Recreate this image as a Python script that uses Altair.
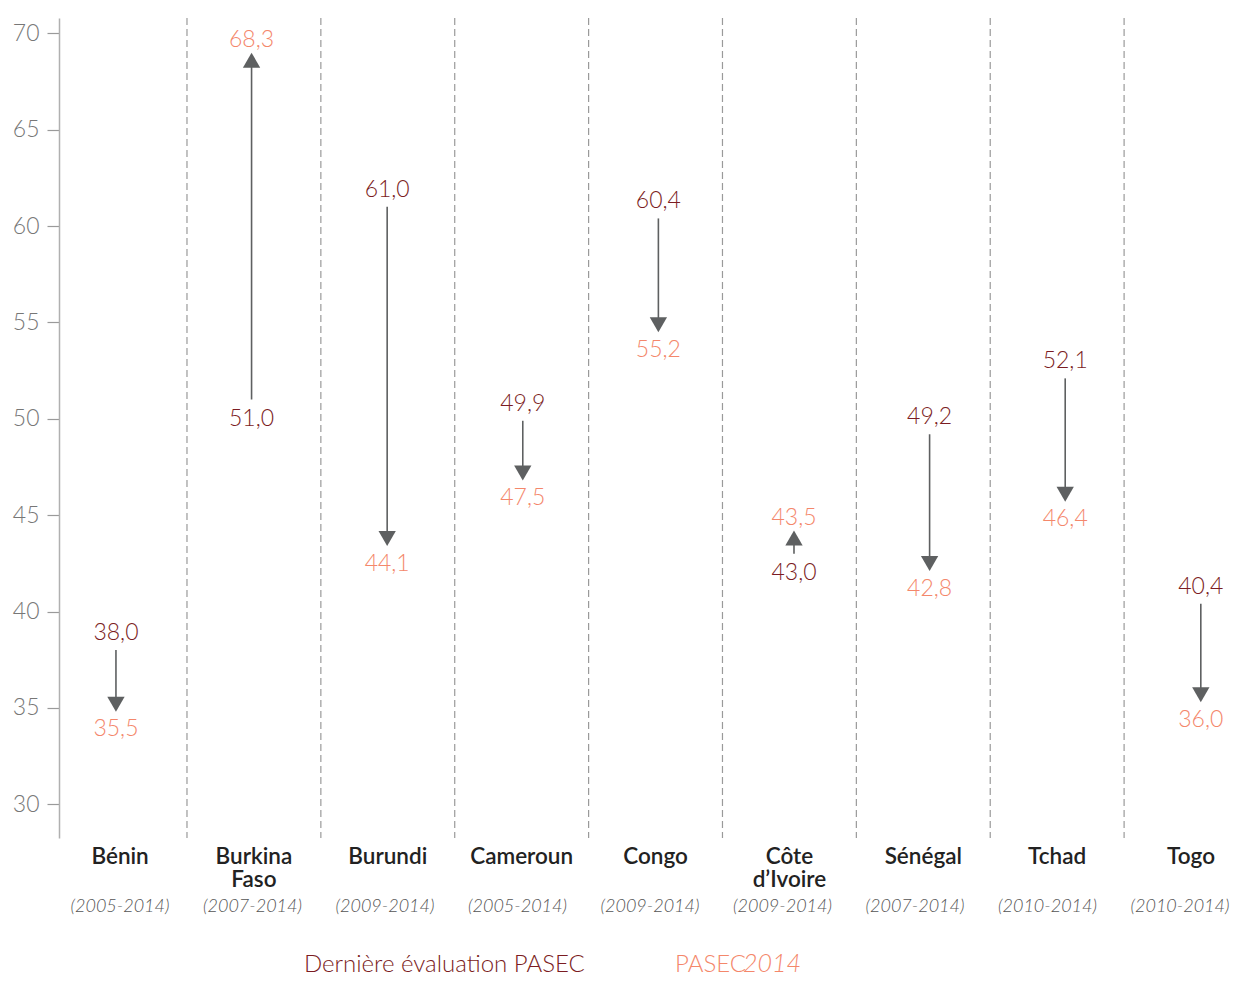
import altair as alt
import pandas as pd

countries = ["Bénin", "Burkina\nFaso", "Burundi", "Cameroun", "Congo", "Côte\nd’Ivoire", "Sénégal", "Tchad", "Togo"]
periods = ["(2005-2014)", "(2007-2014)", "(2009-2014)", "(2005-2014)", "(2009-2014)", "(2009-2014)", "(2007-2014)", "(2010-2014)", "(2010-2014)"]
previous = [38.0, 51.0, 61.0, 49.9, 60.4, 43.0, 49.2, 52.1, 40.4]
pasec2014 = [35.5, 68.3, 44.1, 47.5, 55.2, 43.5, 42.8, 46.4, 36.0]
y_ticks = [30, 35, 40, 45, 50, 55, 60, 65, 70]

DARK = "#7b1c22"
SALMON = "#f4876b"
ARROW = "#5e6061"
FONT = "Lato"

def fmt(v):
    return f"{v:.1f}".replace(".", ",")

df = pd.DataFrame({
    "idx": list(range(len(countries))),
    "country": countries,
    "period": periods,
    "old": previous,
    "new": pasec2014,
})
df["old_lbl"] = [fmt(v) for v in df["old"]]
df["new_lbl"] = [fmt(v) for v in df["new"]]
df["up"] = df["new"] > df["old"]

seps = pd.DataFrame({"s": [i + 0.5 for i in range(len(countries) - 1)]})

W, H = 1173, 820
xs = alt.Scale(domain=[-0.42, 8.23], nice=False, zero=False)        # arrows
xl = alt.Scale(domain=[-0.456, 8.306], nice=False, zero=False)      # names / separators
xd = alt.Scale(domain=[-0.4604, 8.3925], nice=False, zero=False)    # periods
ys = alt.Scale(domain=[28.25, 70.8], nice=False, zero=False)
X = alt.X("idx:Q", scale=xs, axis=None)
XL = alt.X("idx:Q", scale=xl, axis=None)
XD = alt.X("idx:Q", scale=xd, axis=None)

base = alt.Chart(df)

sep_layer = alt.Chart(seps).mark_rule(color="#9a9a9a", strokeDash=[7, 4], strokeWidth=1.2).encode(
    x=alt.X("s:Q", scale=xl, axis=None), y=alt.value(0), y2=alt.value(H)
)

rules = base.mark_rule(color=ARROW, strokeWidth=1.6).encode(
    x=X,
    y=alt.Y("old:Q", scale=ys, axis=alt.Axis(
        values=y_ticks, title=None, grid=False, domainColor="#b0b0b0", domainWidth=1.5,
        tickColor="#9a9a9a", tickSize=12, tickWidth=1.2, labelFont=FONT, labelFontSize=23,
        labelColor="#777777", labelPadding=8, labelFontWeight=300)),
    y2="new:Q",
)

tri_down = base.transform_filter("!datum.up").mark_point(
    shape="triangle-down", filled=True, color=ARROW, opacity=1, size=300, yOffset=6
).encode(x=X, y=alt.Y("new:Q", scale=ys))
tri_up = base.transform_filter("datum.up").mark_point(
    shape="triangle-up", filled=True, color=ARROW, opacity=1, size=300, yOffset=-6
).encode(x=X, y=alt.Y("new:Q", scale=ys))

tstyle = dict(font=FONT, fontSize=23, baseline="middle", align="center", fontWeight=300)
old_down = base.transform_filter("!datum.up").mark_text(color=DARK, dy=-17, **tstyle).encode(
    x=X, y=alt.Y("old:Q", scale=ys), text="old_lbl:N")
new_down = base.transform_filter("!datum.up").mark_text(color=SALMON, dy=31, **tstyle).encode(
    x=X, y=alt.Y("new:Q", scale=ys), text="new_lbl:N")
old_up = base.transform_filter("datum.up").mark_text(color=DARK, dy=19, **tstyle).encode(
    x=X, y=alt.Y("old:Q", scale=ys), text="old_lbl:N")
new_up = base.transform_filter("datum.up").mark_text(color=SALMON, dy=-26, **tstyle).encode(
    x=X, y=alt.Y("new:Q", scale=ys), text="new_lbl:N")

names = base.mark_text(font=FONT, fontSize=22.5, fontWeight=600, color="#222222", align="center",
                       baseline="alphabetic", lineBreak="\n", lineHeight=23).encode(
    x=XL, y=alt.value(846), text="country:N")
dates = base.mark_text(font=FONT, fontSize=18, fontStyle="italic", fontWeight=300, color="#555555",
                       align="center", baseline="alphabetic").encode(
    x=XD, y=alt.value(894), text="period:N")

leg = pd.DataFrame({"t": ["Dernière évaluation PASEC"]})
leg1 = alt.Chart(leg).mark_text(font=FONT, fontSize=24, fontWeight=300, color=DARK, align="left",
                                baseline="alphabetic").encode(
    x=alt.value(245), y=alt.value(954), text="t:N")
leg2df = pd.DataFrame({"t": ["PASEC"]})
leg2 = alt.Chart(leg2df).mark_text(font=FONT, fontSize=24, fontWeight=300, color=SALMON, align="left",
                                   baseline="alphabetic").encode(
    x=alt.value(616), y=alt.value(954), text="t:N")
leg3df = pd.DataFrame({"t": ["2014"]})
leg3 = alt.Chart(leg3df).mark_text(font=FONT, fontSize=25, fontWeight=300, fontStyle="italic",
                                   color=SALMON, align="left", baseline="alphabetic").encode(
    x=alt.value(684), y=alt.value(954), text="t:N")

chart = alt.layer(
    sep_layer, rules, tri_down, tri_up, old_down, new_down, old_up, new_up, names, dates, leg1, leg2, leg3
).resolve_scale(x="independent").properties(
    width=W, height=H,
    autosize=alt.AutoSizeParams(type="none"),
    padding={"left": 51, "top": 10, "right": 0, "bottom": 141},
).configure_view(stroke=None)

chart.save("out.html", embed_options={"renderer": "svg", "actions": False})
